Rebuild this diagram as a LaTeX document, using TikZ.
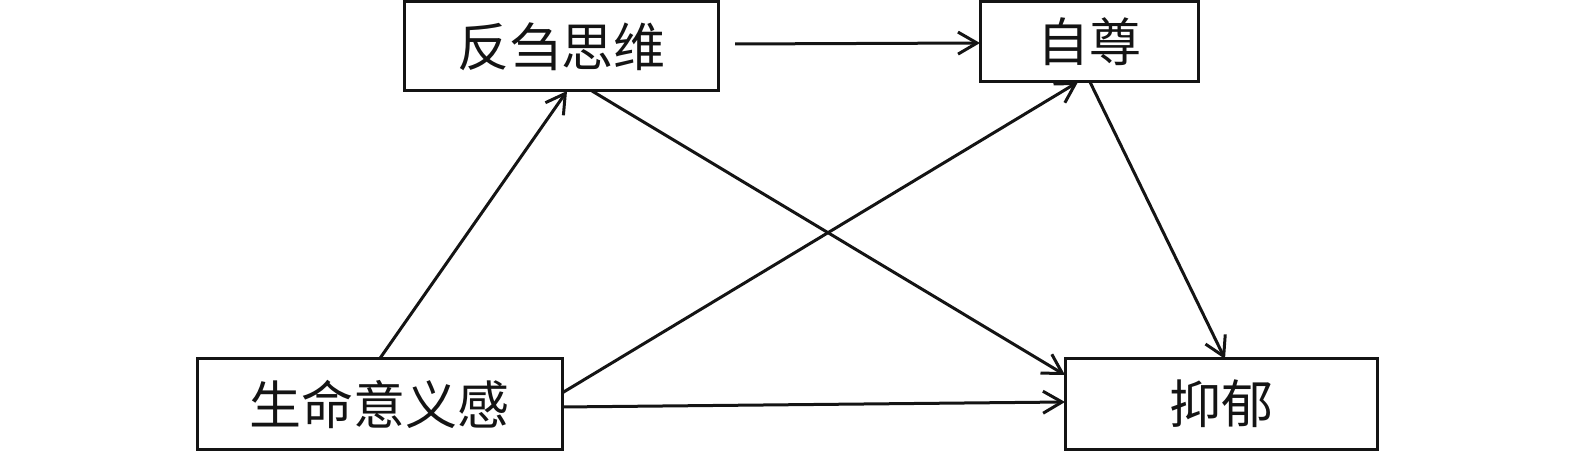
\documentclass[tikz,border=0pt]{standalone}
\usepackage{fontspec}
\newfontfamily\cjk{Noto Sans CJK SC}
\usetikzlibrary{arrows.meta,calc}
\begin{document}
\begin{tikzpicture}[x=1bp,y=-1bp,
  box/.style={draw=black!92,line width=3bp,inner sep=0pt,outer sep=0pt,
    font=\cjk\fontsize{52bp}{56bp}\selectfont,text=black!92},
  conn/.style={draw=black!92,line width=3bp,
    -{Straight Barb[length=19bp,width=22bp,line width=3bp]}}]
\useasboundingbox (0,0) rectangle (1575,451);
\node[box,minimum width=314bp,minimum height=89bp] (A) at (561,46.5) {反刍思维};
\node[box,minimum width=218bp,minimum height=80bp] (B) at (1089,42) {自尊};
\node[box,minimum width=365bp,minimum height=90bp] (C) at (379.5,404) {生命意义感};
\node[box,minimum width=312bp,minimum height=90bp] (D) at (1221,404) {抑郁};
\coordinate (a1) at ([xshift=17bp,yshift=2.5bp]A.east);
\draw[conn] (a1) -- ([yshift=-1bp]B.west);
\draw[conn] (C.north) -- ([xshift=6bp]A.south);
\draw[conn] ([xshift=31bp]A.south) -- ([yshift=29bp]D.west);
\draw[conn] ([yshift=11bp]C.east) -- ([xshift=-11bp]B.south);
\draw[conn] ([xshift=1bp]B.south) -- ([xshift=4bp]D.north);
\draw[conn] ([yshift=-3bp]C.east) -- ([yshift=2bp]D.west);
\end{tikzpicture}
\end{document}
